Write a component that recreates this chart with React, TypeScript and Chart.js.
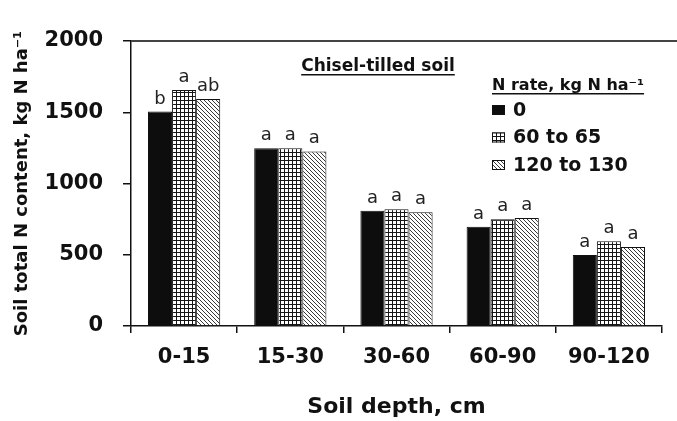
import React, { useEffect, useRef } from 'react';
import { Chart, registerables } from 'chart.js';

Chart.register(...registerables);

const depths = ['0-15', '15-30', '30-60', '60-90', '90-120'];
const rateLabels = ['0', '60 to 65', '120 to 130'];
const rate0 = [1505, 1248, 809, 697, 498];
const rate60 = [1656, 1248, 819, 749, 594];
const rate120 = [1593, 1225, 798, 758, 554];
const letters0 = ['b', 'a', 'a', 'a', 'a'];
const letters60 = ['a', 'a', 'a', 'a', 'a'];
const letters120 = ['ab', 'a', 'a', 'a', 'a'];
const yTicks = [0, 500, 1000, 1500, 2000];
const panelTitle = 'Chisel-tilled soil';
const legendTitle = 'N rate, kg N ha⁻¹';
const xTitle = 'Soil depth, cm';
const yTitle = 'Soil total N content, kg N ha⁻¹';

const FONT = '"DejaVu Sans", "Liberation Sans", sans-serif';

function makeGrid(ctx: CanvasRenderingContext2D) {
  const c = document.createElement('canvas');
  c.width = 4;
  c.height = 4;
  const g = c.getContext('2d')!;
  g.fillStyle = '#ffffff';
  g.fillRect(0, 0, 4, 4);
  g.fillStyle = '#151515';
  g.fillRect(0, 0, 4, 1);
  g.fillRect(0, 0, 1, 4);
  return ctx.createPattern(c, 'repeat')!;
}

function makeHatch(ctx: CanvasRenderingContext2D) {
  const c = document.createElement('canvas');
  c.width = 4;
  c.height = 4;
  const g = c.getContext('2d')!;
  g.fillStyle = '#ffffff';
  g.fillRect(0, 0, 4, 4);
  g.fillStyle = '#3a3a3a';
  for (let i = 0; i < 4; i++) g.fillRect(i, i, 1, 1);
  return ctx.createPattern(c, 'repeat')!;
}

export default function App() {
  const ref = useRef<HTMLCanvasElement>(null);

  useEffect(() => {
    document.body.style.margin = '0';
    const canvas = ref.current!;
    const ctx = canvas.getContext('2d')!;
    const gridPat = makeGrid(ctx);
    const hatchPat = makeHatch(ctx);
    const fills: any[] = ['#0d0d0d', gridPat, hatchPat];
    const letters = [letters0, letters60, letters120];

    const annotations = {
      id: 'annotations',
      afterDatasetsDraw(chart: any) {
        const c = chart.ctx;
        c.save();
        c.font = `18px ${FONT}`;
        c.fillStyle = '#222';
        c.textAlign = 'center';
        c.textBaseline = 'alphabetic';
        for (let d = 0; d < 3; d++) {
          const meta = chart.getDatasetMeta(d);
          meta.data.forEach((el: any, j: number) => {
            c.fillText(letters[d][j], el.x, el.y - 8);
          });
        }
        c.restore();
      },
      afterDraw(chart: any) {
        const c = chart.ctx;
        const area = chart.chartArea;
        c.save();
        // top frame line
        c.strokeStyle = '#444';
        c.lineWidth = 2;
        c.beginPath();
        c.moveTo(area.left, area.top);
        c.lineTo(chart.width, area.top);
        c.stroke();

        // panel title
        c.fillStyle = '#111';
        c.font = `bold 17px ${FONT}`;
        c.textAlign = 'center';
        c.textBaseline = 'alphabetic';
        const px = 378;
        c.fillText(panelTitle, px, 71);
        const pw = c.measureText(panelTitle).width;
        c.fillRect(px - pw / 2, 74, pw, 1.5);

        // legend title
        c.textAlign = 'left';
        c.font = `bold 16px ${FONT}`;
        c.fillText(legendTitle, 492, 90);
        const lw = c.measureText(legendTitle).width;
        c.fillRect(492, 93, lw, 1.5);

        // legend items
        c.font = `bold 19px ${FONT}`;
        c.textBaseline = 'middle';
        rateLabels.forEach((lab, i) => {
          const cy = 110 + i * 27.5;
          c.fillStyle = fills[i];
          c.fillRect(492, cy - 5, 13, 10);
          c.strokeStyle = '#111';
          c.lineWidth = 1;
          c.strokeRect(492.5, cy - 4.5, 12, 9);
          c.fillStyle = '#111';
          c.fillText(lab, 513, cy + 1);
        });
        c.restore();
      },
    };

    const chart = new Chart(canvas, {
      type: 'bar',
      data: {
        labels: depths,
        datasets: [
          { label: rateLabels[0], data: rate0, backgroundColor: fills[0], borderColor: '#111', borderWidth: 1 },
          { label: rateLabels[1], data: rate60, backgroundColor: fills[1], borderColor: '#111', borderWidth: 1 },
          { label: rateLabels[2], data: rate120, backgroundColor: fills[2], borderColor: '#111', borderWidth: 1 },
        ],
      },
      options: {
        animation: false,
        responsive: false,
        devicePixelRatio: 1,
        layout: { padding: { top: 41, right: 15, left: 0, bottom: 0 } },
        datasets: { bar: { categoryPercentage: 0.68, barPercentage: 1.0 } },
        plugins: {
          legend: { display: false },
          tooltip: { enabled: false },
          title: { display: false },
        },
        scales: {
          x: {
            grid: { display: true, drawOnChartArea: false, drawTicks: true, tickLength: 7, color: '#111', lineWidth: 1.5 },
            border: { display: true, color: '#111', width: 1.5 },
            ticks: { color: '#111', font: { family: FONT, size: 21, weight: 'bold' }, padding: 12, maxRotation: 0 },
            title: {
              display: true,
              text: xTitle,
              color: '#111',
              font: { family: FONT, size: 22, weight: 'bold' },
              padding: { top: 0, bottom: 1 },
            },
            afterFit: (scale: any) => {
              scale.height = 95;
            },
          },
          y: {
            min: 0,
            max: 2000,
            afterBuildTicks: (scale: any) => {
              scale.ticks = yTicks.map((v) => ({ value: v }));
            },
            grid: { display: true, drawOnChartArea: false, drawTicks: true, tickLength: 8, color: '#111', lineWidth: 1.5 },
            border: { display: true, color: '#111', width: 1.5 },
            ticks: {
              color: '#111',
              font: { family: FONT, size: 21, weight: 'bold' },
              padding: 20,
              callback: (v: any) => String(v),
            },
            title: {
              display: true,
              text: yTitle,
              color: '#111',
              font: { family: FONT, size: 18, weight: 'bold' },
              padding: { top: 12, bottom: 0 },
            },
            afterFit: (scale: any) => {
              scale.width = 131;
            },
          },
        },
      },
      plugins: [annotations],
    } as any);

    return () => chart.destroy();
  }, []);

  return (
    <div style={{ width: 677, height: 421 }}>
      <canvas ref={ref} width={677} height={421} style={{ display: 'block' }} />
    </div>
  );
}
